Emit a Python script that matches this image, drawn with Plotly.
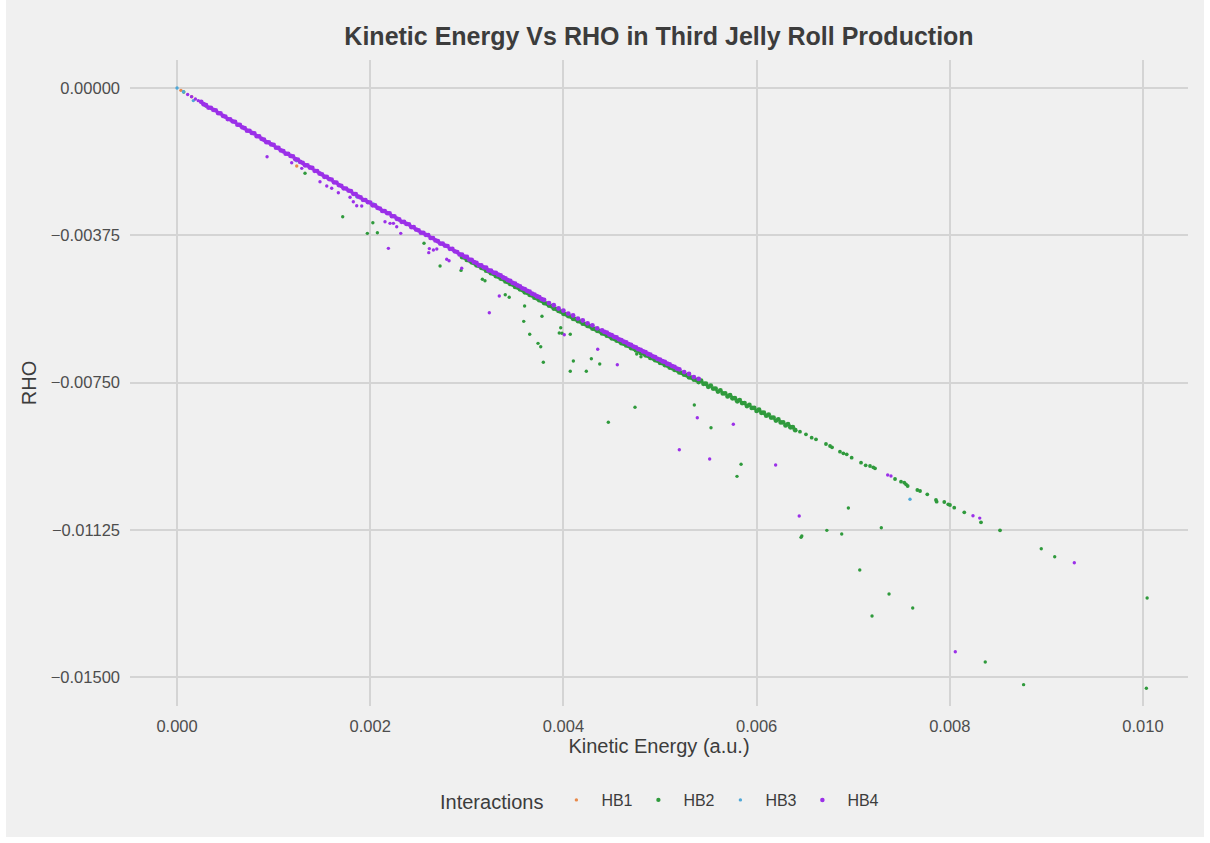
import plotly.graph_objects as go

# values are in micro-units (1e-6) of the axis quantities
UNIT = 1e-6

# ---------------- HB1 ----------------
hb1_ke = [40, 152, 1239]
hb1_rho = [-60, -221, -1986]

# ---------------- HB3 ----------------
hb3_ke = [0, 66, 169, 583, 1239, 1860, 2033, 7588]
hb3_rho = [0, -94, -320, -858, -1851, -2767, -2953, -10471]

# ---------------- HB4 (dense band) ----------------
hb4_band_ke = [
    250, 275, 300, 325, 350, 375, 400, 425, 450, 475,
    500, 525, 550, 575, 600, 625, 650, 675, 700, 725,
    750, 775, 800, 825, 850, 875, 900, 925, 950, 975,
    1000, 1025, 1050, 1075, 1100, 1125, 1150, 1175, 1200, 1225,
    1250, 1275, 1300, 1325, 1350, 1375, 1400, 1425, 1450, 1475,
    1500, 1525, 1550, 1575, 1600, 1625, 1650, 1675, 1700, 1725,
    1750, 1775, 1800, 1825, 1850, 1875, 1900, 1925, 1950, 1975,
    2000,
    2025, 2050, 2075, 2100, 2125, 2150, 2175, 2200, 2225, 2250,
    2275, 2300, 2325, 2350, 2375, 2400, 2425, 2450, 2475, 2500,
    2525, 2550, 2575, 2600, 2625, 2650, 2675, 2700, 2725, 2750,
    2775, 2800, 2825, 2850, 2875, 2900, 2925, 2950, 2975, 3000,
    3025, 3050, 3075, 3100, 3125, 3150, 3175, 3200, 3225, 3250,
    3275,
    3300, 3325, 3350, 3375, 3400, 3425, 3450, 3475, 3500, 3525,
    3550, 3575, 3600, 3625, 3650, 3675, 3700, 3725, 3750, 3775,
    3800,
    3850, 3900, 3950, 4000, 4050, 4100, 4150, 4200, 4250, 4300, 4350, 4400,
    4425, 4450, 4475, 4500, 4525, 4550, 4575, 4600, 4625, 4650,
    4675, 4700, 4725, 4750, 4775, 4800, 4825, 4850, 4875, 4900,
    4925, 4950, 4975, 5000, 5025, 5050, 5075, 5100, 5125, 5150,
    5175, 5200,
    5250, 5300, 5350, 5400,
]
hb4_band_rho = [
    -352, -414, -436, -497, -504, -556, -567, -639, -646, -708,
    -729, -791, -798, -849, -861, -933, -940, -1001, -1023, -1085,
    -1091, -1143, -1155, -1227, -1233, -1295, -1317, -1378, -1385, -1437,
    -1449, -1520, -1527, -1589, -1610, -1672, -1679, -1730, -1742, -1814,
    -1821, -1882, -1904, -1966, -1972, -2024, -2036, -2108, -2114, -2176,
    -2198, -2259, -2266, -2318, -2330, -2401, -2408, -2470, -2491, -2553,
    -2560, -2612, -2623, -2695, -2702, -2763, -2785, -2847, -2854, -2905,
    -2917,
    -2987, -2991, -3051, -3070, -3130, -3135, -3184, -3194, -3263, -3268,
    -3328, -3347, -3407, -3411, -3461, -3471, -3540, -3545, -3604, -3624,
    -3684, -3688, -3738, -3747, -3817, -3822, -3881, -3901, -3960, -3965,
    -4015, -4024, -4094, -4098, -4158, -4178, -4237, -4242, -4291, -4301,
    -4369, -4374, -4433, -4453, -4512, -4516, -4566, -4575, -4644, -4649,
    -4698,
    -4708, -4752, -4773, -4824, -4845, -4889, -4911, -4961, -4983, -5027,
    -5048, -5099, -5120, -5164, -5186, -5236, -5258, -5302, -5323, -5374,
    -5395,
    -5474, -5530, -5614, -5670, -5742, -5792, -5870, -5919, -5991, -6041, -6119, -6168,
    -6209, -6227, -6275, -6293, -6334, -6352, -6399, -6417, -6458, -6476,
    -6523, -6542, -6583, -6601, -6648, -6666, -6707, -6725, -6772, -6791,
    -6832, -6850, -6897, -6915, -6956, -6974, -7020, -7038, -7079, -7097,
    -7143, -7161,
    -7233, -7281, -7359, -7407,
]
hb4_out_ke = [
    110, 150, 190, 220, 932, 1187, 1291, 1480, 1550, 1601, 1670, 1791, 1825,
    1860, 1912, 2153, 2205, 2240, 2274, 2316, 2188, 2606, 2612, 2654, 2689,
    2792, 2816, 2947, 3233, 3336, 4009, 4355, 4558, 5386, 5759, 5200, 5514,
    6197, 6441, 7357, 7391, 8240, 8310, 8057, 9289,
]
hb4_out_rho = [
    -165, -220, -280, -322, -1749, -1901, -2045, -2385, -2495, -2553, -2665, -2783, -2894,
    -2996, -3004, -3403, -3445, -3445, -3531, -3700, -4082, -4192, -4089, -4124, -4099,
    -4361, -4397, -4590, -5720, -5295, -6280, -6652, -7044, -8393, -8562, -9208, -9445,
    -9598, -10896, -9852, -9878, -10888, -10950, -14350, -12085,
]

# ---------------- HB2 ----------------
hb2_band_ke = [
    2950, 2975, 3000, 3025, 3050, 3075, 3100, 3125, 3150, 3175,
    3200, 3225, 3250, 3275, 3300, 3325, 3350, 3375, 3400, 3425,
    3450, 3475, 3500, 3525, 3550, 3575, 3600, 3625, 3650, 3675,
    3700, 3725, 3750, 3775, 3800,
    3825, 3850, 3875, 3900, 3925, 3950, 3975, 4000, 4025, 4050,
    4075, 4100, 4125, 4150, 4175, 4200, 4225, 4250, 4275, 4300,
    4325, 4350, 4375, 4400,
    4425, 4450, 4475, 4500, 4525, 4550, 4575, 4600, 4625, 4650,
    4675, 4700, 4725, 4750, 4775, 4800, 4825, 4850, 4875, 4900,
    4925, 4950, 4975, 5000, 5025, 5050, 5075, 5100, 5125, 5150,
    5175, 5200, 5225, 5250, 5275, 5300, 5325, 5350, 5375, 5400,
    5425, 5450, 5475, 5500, 5525, 5550, 5575, 5600, 5625, 5650,
    5675, 5700, 5725, 5750, 5775, 5800, 5825, 5850, 5875, 5900,
    5925, 5950, 5975, 6000, 6025, 6050, 6075, 6100, 6125, 6150,
    6175, 6200, 6225, 6250, 6275, 6300, 6325, 6350, 6375, 6400,
]
hb2_band_rho = [
    -4302, -4318, -4376, -4389, -4439, -4455, -4513, -4527, -4576, -4593,
    -4650, -4664, -4714, -4730, -4788, -4802, -4851, -4868, -4925, -4939,
    -4989, -5005, -5063, -5077, -5126, -5143, -5200, -5214, -5264, -5280,
    -5338, -5352, -5401, -5418, -5475,
    -5489, -5539, -5555, -5613, -5627, -5676, -5693, -5750, -5761, -5807,
    -5820, -5875, -5886, -5932, -5945, -5999, -6010, -6056, -6069, -6124,
    -6135, -6181, -6194, -6248,
    -6259, -6305, -6319, -6373, -6384, -6430, -6443, -6497, -6508, -6554,
    -6567, -6622, -6633, -6679, -6692, -6746, -6757, -6803, -6816, -6871,
    -6882, -6928, -6941, -6995, -7006, -7052, -7064, -7118, -7129, -7175,
    -7187, -7241, -7252, -7298, -7310, -7364, -7375, -7421, -7433, -7487,
    -7453, -7529, -7529, -7605, -7576, -7652, -7652, -7728, -7699, -7775,
    -7775, -7851, -7822, -7898, -7898, -7974, -7945, -8021, -8021, -8097,
    -8068, -8144, -8144, -8220, -8191, -8267, -8267, -8343, -8314, -8390,
    -8390, -8466, -8437, -8513, -8513, -8589, -8560, -8636, -8636, -8712,
]
hb2_tail_ke = [
    6449, 6511, 6570, 6615, 6718, 6760, 6781, 6863, 6898, 6933, 6984, 7081,
    7129, 7174, 7208, 7226, 7433, 7495, 7529, 7547, 7564, 7664, 7692, 7767,
    7857, 7864, 7943, 7984, 8002, 8046, 8150, 8323, 8520,
]
hb2_tail_rho = [
    -8748, -8816, -8903, -8944, -9063, -9114, -9147, -9259, -9300, -9325, -9412, -9539,
    -9605, -9623, -9656, -9682, -9954, -10023, -10048, -10089, -10132, -10234, -10260, -10344,
    -10489, -10532, -10540, -10598, -10616, -10685, -10802, -11057, -11260,
]
hb2_out_ke = [
    70, 300, 1325, 1715, 1970, 2074, 2027, 2557, 2723, 2940, 3161, 3188, 3398,
    3439, 3598, 3589, 3778, 3651, 3737, 3765, 3792, 3972, 3957, 3985, 4071,
    4103, 4071, 4237, 4289, 4376, 4759, 4803, 4465, 4741, 5355, 5528, 5839,
    5797, 6460, 6468, 6727, 6881, 6950, 7291, 7068, 7371, 7616, 7195, 8367,
    8764, 10035, 10043, 8947, 9086,
]
hb2_out_rho = [
    -100, -460, -2172, -3276, -3700, -3683, -3430, -3954, -4532, -4643, -4870, -4906, -5262,
    -5328, -5550, -5940, -5812, -6270, -6500, -6586, -6983, -6102, -6237, -6245, -6270,
    -6950, -7212, -7212, -6891, -7026, -6772, -6840, -8511, -8129, -8070, -8648, -9580,
    -9886, -11439, -11405, -11261, -11354, -10692, -11194, -12271, -12882, -13238, -13442, -14613,
    -15190, -15283, -12984, -11728, -11932,
]

# axis ticks
x_ticks = [0.0, 0.002, 0.004, 0.006, 0.008, 0.010]
x_ticktext = ["0.000", "0.002", "0.004", "0.006", "0.008", "0.010"]
y_ticks = [0.0, -0.00375, -0.0075, -0.01125, -0.015]
y_ticktext = ["0.00000", "\u22120.00375", "\u22120.00750", "\u22120.01125", "\u22120.01500"]

colors = {"HB1": "#E8894A", "HB2": "#2F9A3C", "HB3": "#4FA8D8", "HB4": "#9B30E8"}

BAND_SIZE = 4.8
POINT_SIZE = 3.4


def scaled(vals):
    return [v * UNIT for v in vals]


series = [
    ("HB1", [hb1_ke], [hb1_rho], [POINT_SIZE]),
    ("HB2", [hb2_band_ke, hb2_tail_ke, hb2_out_ke], [hb2_band_rho, hb2_tail_rho, hb2_out_rho],
     [BAND_SIZE, 3.8, POINT_SIZE]),
    ("HB3", [hb3_ke], [hb3_rho], [POINT_SIZE]),
    ("HB4", [hb4_band_ke, hb4_out_ke], [hb4_band_rho, hb4_out_rho], [BAND_SIZE, POINT_SIZE]),
]

fig = go.Figure()
for name, kes, rhos, sizes in series:
    xs, ys, ss = [], [], []
    for ke, rho, s in zip(kes, rhos, sizes):
        xs += scaled(ke)
        ys += scaled(rho)
        ss += [s] * len(ke)
    fig.add_trace(go.Scatter(
        x=xs, y=ys, mode="markers", name=name,
        marker=dict(size=ss, color=colors[name], opacity=1, line=dict(width=0)),
    ))

FONT = "Liberation Sans, Arial, sans-serif"
L, R, T, B = 130, 22, 60, 137
W, H = 1210, 843
pw, ph = W - L - R, H - T - B

fig.update_layout(
    width=W, height=H,
    margin=dict(l=L, r=R, t=T, b=B, autoexpand=False),
    paper_bgcolor="#F0F0F0", plot_bgcolor="#F0F0F0",
    font=dict(family=FONT, color="#3C3C3C"),
    title=dict(text="<b>Kinetic Energy Vs RHO in Third Jelly Roll Production</b>",
               x=(L + pw / 2) / W, xanchor="center", xref="container",
               y=1 - 36 / H, yanchor="middle", yref="container",
               font=dict(size=25, color="#3C3C3C", family=FONT)),
    xaxis=dict(range=[-0.000487, 0.010466], tickvals=x_ticks, ticktext=x_ticktext,
               showgrid=True, gridcolor="#D4D4D4", gridwidth=1.6, zeroline=False,
               showline=False, ticks="", ticklabelstandoff=8,
               tickfont=dict(size=16.5, color="#4D4D4D"),
               title=dict(text="Kinetic Energy (a.u.)", font=dict(size=20, color="#3C3C3C"), standoff=4)),
    yaxis=dict(range=[-0.015733, 0.000713], tickvals=y_ticks, ticktext=y_ticktext,
               showgrid=True, gridcolor="#D4D4D4", gridwidth=1.6, zeroline=False,
               showline=False, ticks="", ticklabelstandoff=9,
               tickfont=dict(size=16.5, color="#4D4D4D"),
               title=dict(text="RHO", font=dict(size=20, color="#3C3C3C"), standoff=8)),
    legend=dict(orientation="h", x=0.5, xanchor="center", y=-(801 - (H - B)) / ph, yanchor="middle",
                font=dict(size=16, color="#3C3C3C"), bgcolor="rgba(0,0,0,0)",
                title=dict(text="Interactions", side="left", font=dict(size=20, color="#3C3C3C")),
                itemsizing="trace", itemwidth=40, entrywidth=27, entrywidthmode="pixels"),
    showlegend=True,
    shapes=[dict(type="rect", xref="paper", yref="paper",
                 x0=-L / pw, x1=(W - L) / pw, y0=-B / ph, y1=(H - T) / ph,
                 line=dict(color="white", width=12), fillcolor="rgba(0,0,0,0)", layer="above")],
)

fig.write_html("out.html")
